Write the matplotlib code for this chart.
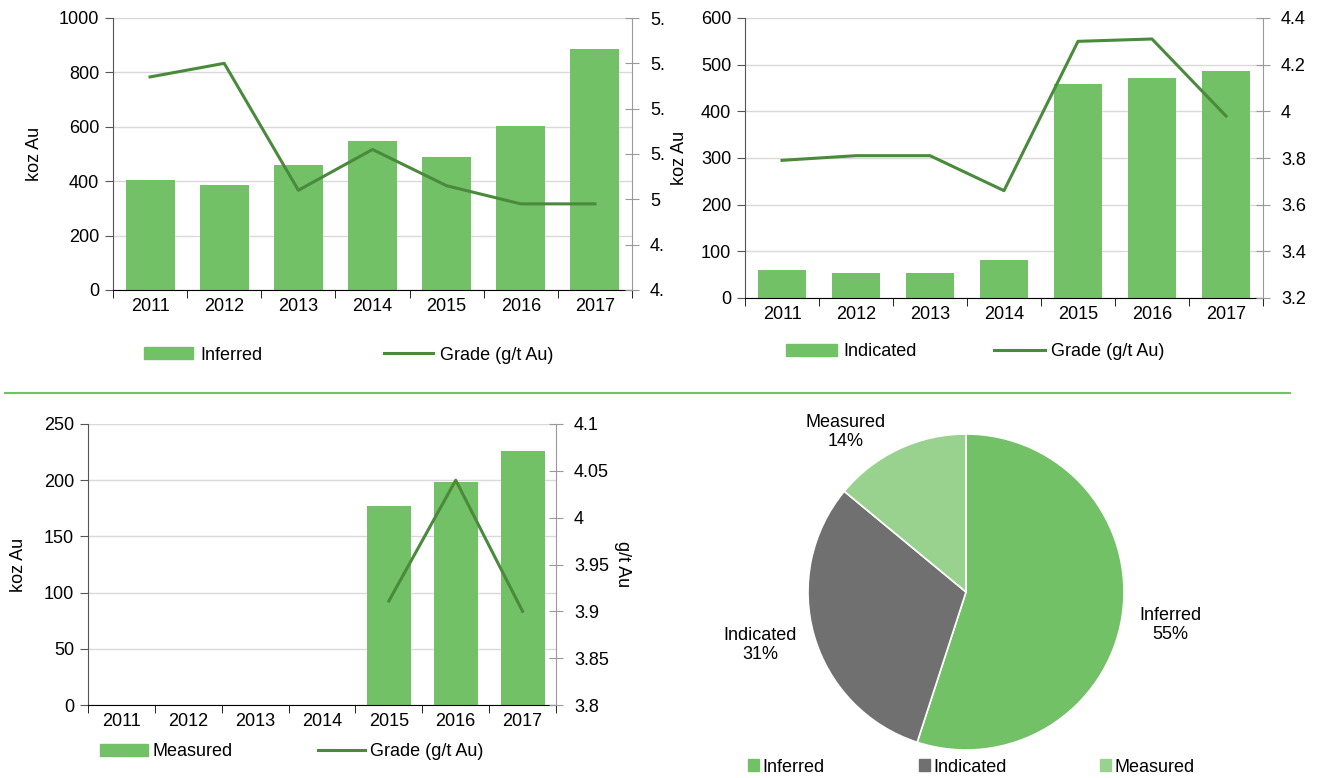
import matplotlib
matplotlib.use('Agg')
import matplotlib.pyplot as plt
from matplotlib.transforms import Bbox
from matplotlib.lines import Line2D
from matplotlib.patches import Patch
import numpy as np

plt.rcParams['font.family'] = ['Liberation Sans', 'DejaVu Sans']
plt.rcParams['font.size'] = 13

years = ['2011', '2012', '2013', '2014', '2015', '2016', '2017']

inferred_koz = [405, 387, 461, 548, 489, 603, 885]
inferred_grade = [5.54, 5.60, 5.04, 5.22, 5.06, 4.98, 4.98]

indicated_koz = [60, 54, 54, 81, 459, 471, 486]
indicated_grade = [3.79, 3.81, 3.81, 3.66, 4.30, 4.31, 3.98]

measured_koz = [0, 0, 0, 0, 177, 198, 226]
measured_grade = [None, None, None, None, 3.911, 4.04, 3.90]

pie_labels = ['Inferred', 'Indicated', 'Measured']
pie_share = [55, 31, 14]

GREEN = '#73c167'
DKGREEN = '#4a8a3c'
GREY = '#707070'
LTGREEN = '#98d28e'

W, H = 1319, 778
fig = plt.figure(figsize=(W / 100, H / 100), dpi=100)


def rect(x0, y0, x1, y1):
    return [x0 / W, 1 - y1 / H, (x1 - x0) / W, (y1 - y0) / H]


def combo(box, koz, grade, ylim, yticks, y2lim, y2ticks, y2label=None):
    ax = fig.add_axes(rect(*box))
    x = np.arange(len(years))
    ax.bar(x, koz, width=0.66, color=GREEN, zorder=2)
    ax.set_xlim(-0.5, len(years) - 0.5)
    ax.set_ylim(*ylim)
    ax.set_yticks(yticks)
    ax.set_xticks(x)
    ax.set_xticklabels(years)
    ax.set_xticks(np.arange(-0.5, len(years)), minor=True)
    ax.tick_params(axis='x', which='major', length=0, pad=6)
    ax.tick_params(axis='x', which='minor', length=6, color='black')
    ax.tick_params(axis='y', length=6, color='#555555', pad=4)
    ax.yaxis.grid(True, color='#d9d9d9', lw=1, zorder=0)
    ax.set_axisbelow(True)
    for s in ['top', 'right']:
        ax.spines[s].set_visible(False)
    ax.spines['left'].set_color('#555555')
    ax.spines['bottom'].set_color('black')
    ax.set_ylabel('koz Au')

    ax2 = ax.twinx()
    gx = [i for i, g in enumerate(grade) if g is not None]
    gy = [g for g in grade if g is not None]
    ax2.plot(gx, gy, color=DKGREEN, lw=2.2, zorder=3)
    ax2.set_ylim(*y2lim)
    ax2.set_yticks(y2ticks)
    ax2.set_yticklabels([('%.2f' % v).rstrip('0').rstrip('.') for v in y2ticks])
    ax2.tick_params(axis='y', direction='inout', length=10, color='#999999', pad=8)
    for s in ['top', 'left', 'bottom']:
        ax2.spines[s].set_visible(False)
    ax2.spines['right'].set_color('#999999')
    if y2label:
        ax2.set_ylabel(y2label, rotation=270, labelpad=16)
    return ax, ax2


def bar_line_legend(name, x, y, hl, pad, cs):
    fig.legend(handles=[Patch(color=GREEN, label=name),
                        Line2D([], [], color=DKGREEN, lw=2.2, label='Grade (g/t Au)')],
               loc='center left', bbox_to_anchor=(x / W, 1 - y / H), ncol=2,
               frameon=False, handlelength=hl, handleheight=0.6,
               handletextpad=pad, columnspacing=cs)


# top-left: inferred
ax, ax2 = combo((113, 18, 632, 290), inferred_koz, inferred_grade,
                (0, 1000), range(0, 1001, 200), (4.6, 5.8),
                [4.6, 4.8, 5.0, 5.2, 5.4, 5.6, 5.8])
ax.yaxis.set_label_coords(-0.135, 0.5)
# the source image is cropped just right of these labels
clip = Bbox.from_extents(0, 0, 664, H)
for lbl in ax2.get_yticklabels():
    lbl.set_clip_on(True)
    lbl.set_clip_box(clip)
bar_line_legend('Inferred', 128, 355, 2.7, 0.4, 6.75)

# top-right: indicated
ax, ax2 = combo((745, 18, 1263, 298), indicated_koz, indicated_grade,
                (0, 600), range(0, 601, 100), (3.2, 4.4),
                [3.2, 3.4, 3.6, 3.8, 4.0, 4.2, 4.4])
ax.yaxis.set_label_coords(-0.11, 0.5)
bar_line_legend('Indicated', 770, 352, 2.8, 0.35, 4.3)

# bottom-left: measured
ax, ax2 = combo((88, 424, 556, 705), measured_koz, measured_grade,
                (0, 250), range(0, 251, 50), (3.8, 4.1),
                [3.8, 3.85, 3.9, 3.95, 4.0, 4.05, 4.1], y2label='g/t Au')
ax.yaxis.set_label_coords(-0.13, 0.5)
bar_line_legend('Measured', 84, 752, 2.65, 0.25, 4.7)

# separator
fig.add_artist(Line2D([5 / W, 1290 / W], [1 - 393 / H, 1 - 393 / H],
                      color=GREEN, lw=1.5))

# pie
axp = fig.add_axes(rect(808, 434, 1124, 750))
axp.pie(pie_share, colors=[GREEN, GREY, LTGREEN], startangle=90,
        counterclock=False, radius=1,
        wedgeprops=dict(edgecolor='white', linewidth=1.2))
axp.set_xlim(-1, 1)
axp.set_ylim(-1, 1)
axp.set_aspect('equal')
label_pos = [(1170, 625), (760, 645), (846, 432)]
for name, pct, (px, py) in zip(pie_labels, pie_share, label_pos):
    fig.text(px / W, 1 - py / H, '%s\n%d%%' % (name, pct), ha='center',
             va='center', linespacing=1.15)
fig.legend(handles=[Patch(color=c, label=l) for c, l in
                    zip([GREEN, GREY, LTGREEN], pie_labels)],
           loc='center left', bbox_to_anchor=(732 / W, 1 - 767 / H), ncol=3,
           frameon=False, handlelength=0.6, handleheight=0.6, handletextpad=0.2,
           columnspacing=5.2)

fig.savefig('out.png', dpi=100)
